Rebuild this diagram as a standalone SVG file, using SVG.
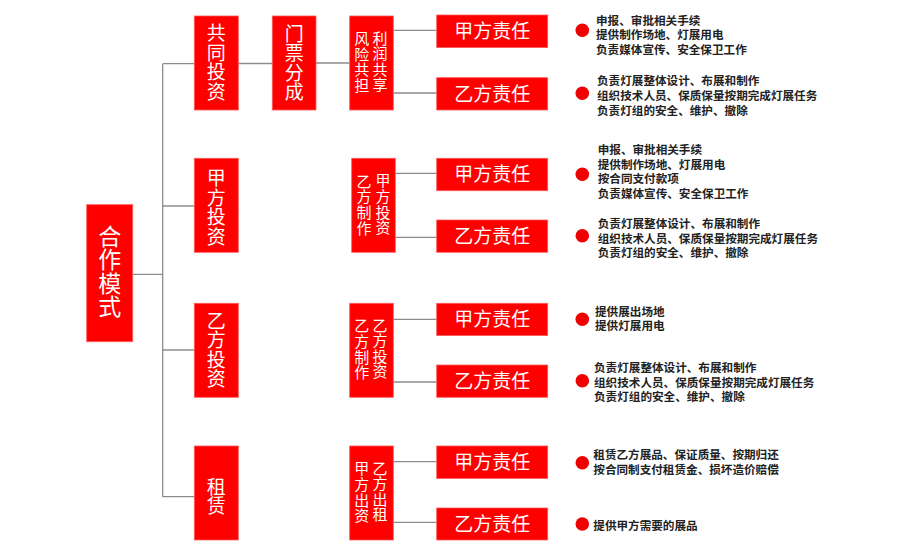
<svg xmlns="http://www.w3.org/2000/svg" width="900" height="550" viewBox="0 0 900 550">
<style>
.box{fill:#ff0000;stroke:#ff5a5a;stroke-width:0.8}
.w{fill:#ffffff;font-family:"Noto Sans CJK SC","Noto Sans",sans-serif;text-anchor:middle}
.v{writing-mode:vertical-rl;text-orientation:upright}
.big{font-size:23px;letter-spacing:0.5px}
.col{font-size:19px;letter-spacing:0.5px}
.mid{font-size:15px;letter-spacing:0.6px}
.resp{font-size:19px}
.d{fill:#222222;font-family:"Noto Sans CJK SC","Noto Sans",sans-serif;font-size:11.6px;font-weight:bold}
.dot{fill:#f00000}
.ln{stroke:#8c8c8c;stroke-width:1.3;fill:none}
</style>
<rect width="900" height="550" fill="#ffffff"/>
<g id="connectors">
<path class="ln" d="M132.7 274.3H162.7M162.7 63.7V496.7M162.7 63.7H194.3M162.7 206H194.3M162.7 350H194.3M162.7 496.7H194.3"/>
<path class="ln" d="M238.3 63.5H272.3M316 63H349.7"/>
<path class="ln" d="M393.3 30.3H436.7M393.3 93H436.7M395.3 173.3H436.7M395.3 237.3H436.7M393.3 319.3H436.7M393.3 382H436.7M393.3 461.7H436.7M393.3 522.3H436.7"/>
</g>
<g id="root">
<rect class="box" x="86.7" y="204.7" width="46" height="137"/>
<text class="w v big" x="109.7" y="271.4">合作模式</text>
</g>
<g id="n-gongtong">
<rect class="box" x="194.3" y="16" width="44" height="94"/>
<text class="w v col" x="216.3" y="62.5">共同投资</text>
</g>
<g id="n-menpiao">
<rect class="box" x="272.3" y="16" width="43.7" height="94"/>
<text class="w v col" x="294.2" y="62.8">门票分成</text>
</g>
<g id="n-lirun">
<rect class="box" x="349.7" y="16" width="43.6" height="94"/>
<text class="w v mid" x="380" y="61.7">利润共享</text>
<text class="w v mid" x="361.7" y="62.2">风险共担</text>
</g>
<g id="n-jiafang">
<rect class="box" x="194.3" y="158.3" width="44" height="94"/>
<text class="w v col" x="216.3" y="207.5">甲方投资</text>
</g>
<g id="n-jiafang-mid">
<rect class="box" x="351.7" y="158.3" width="43.6" height="94"/>
<text class="w v mid" x="383" y="204.5">甲方投资</text>
<text class="w v mid" x="364" y="204.8">乙方制作</text>
</g>
<g id="n-yifang">
<rect class="box" x="194.3" y="303.3" width="44" height="94"/>
<text class="w v col" x="216.3" y="350">乙方投资</text>
</g>
<g id="n-yifang-mid">
<rect class="box" x="349.7" y="303.3" width="43.6" height="94"/>
<text class="w v mid" x="380" y="348.7">乙方投资</text>
<text class="w v mid" x="361.7" y="349.5">乙方制作</text>
</g>
<g id="n-zulin">
<rect class="box" x="194.3" y="446" width="44" height="94"/>
<text class="w v col" x="216.3" y="496.7">租赁</text>
</g>
<g id="n-zulin-mid">
<rect class="box" x="349.7" y="446" width="43.6" height="94"/>
<text class="w v mid" x="380" y="491.7">乙方出租</text>
<text class="w v mid" x="361.7" y="492.5">甲方出资</text>
</g>
<g id="r1-jia">
<rect class="box" x="436.7" y="15" width="111" height="32.5"/>
<text class="w resp" x="492.2" y="38">甲方责任</text>
<circle class="dot" cx="582.3" cy="30.2" r="6.8"/>
<text class="d"><tspan x="596" y="24.7">申报、审批相关手续</tspan><tspan x="596" y="39.2">提供制作场地、灯展用电</tspan><tspan x="596" y="53.7">负责媒体宣传、安全保卫工作</tspan></text>
</g>
<g id="r1-yi">
<rect class="box" x="436.7" y="77.7" width="111" height="32.3"/>
<text class="w resp" x="492.2" y="100.7">乙方责任</text>
<circle class="dot" cx="582.3" cy="93.3" r="6.8"/>
<text class="d"><tspan x="597" y="85.4">负责灯展整体设计、布展和制作</tspan><tspan x="597" y="100.2">组织技术人员、保质保量按期完成灯展任务</tspan><tspan x="597" y="115">负责灯组的安全、维护、撤除</tspan></text>
</g>
<g id="r2-jia">
<rect class="box" x="436.7" y="158.3" width="111" height="32.4"/>
<text class="w resp" x="492.2" y="181.3">甲方责任</text>
<circle class="dot" cx="582.3" cy="174.3" r="6.8"/>
<text class="d"><tspan x="597.7" y="154.1">申报、审批相关手续</tspan><tspan x="597.7" y="168.6">提供制作场地、灯展用电</tspan><tspan x="597.7" y="183.1">按合同支付款项</tspan><tspan x="597.7" y="197.6">负责媒体宣传、安全保卫工作</tspan></text>
</g>
<g id="r2-yi">
<rect class="box" x="436.7" y="220" width="111" height="32.3"/>
<text class="w resp" x="492.2" y="243">乙方责任</text>
<circle class="dot" cx="582.3" cy="235.7" r="6.8"/>
<text class="d"><tspan x="597.7" y="228.4">负责灯展整体设计、布展和制作</tspan><tspan x="597.7" y="242.9">组织技术人员、保质保量按期完成灯展任务</tspan><tspan x="597.7" y="257.4">负责灯组的安全、维护、撤除</tspan></text>
</g>
<g id="r3-jia">
<rect class="box" x="436.7" y="303.3" width="111" height="32.2"/>
<text class="w resp" x="492.2" y="326.3">甲方责任</text>
<circle class="dot" cx="582.3" cy="319.3" r="6.8"/>
<text class="d"><tspan x="595" y="315.6">提供展出场地</tspan><tspan x="595" y="330.1">提供灯展用电</tspan></text>
</g>
<g id="r3-yi">
<rect class="box" x="436.7" y="365" width="111" height="32.3"/>
<text class="w resp" x="492.2" y="388">乙方责任</text>
<circle class="dot" cx="582.3" cy="380.7" r="6.8"/>
<text class="d"><tspan x="594" y="371.9">负责灯展整体设计、布展和制作</tspan><tspan x="594" y="386.5">组织技术人员、保质保量按期完成灯展任务</tspan><tspan x="594" y="401">负责灯组的安全、维护、撤除</tspan></text>
</g>
<g id="r4-jia">
<rect class="box" x="436.7" y="446" width="111" height="32.5"/>
<text class="w resp" x="492.2" y="469">甲方责任</text>
<circle class="dot" cx="582.3" cy="462.7" r="6.8"/>
<text class="d"><tspan x="593.3" y="459.4">租赁乙方展品、保证质量、按期归还</tspan><tspan x="593.3" y="474.2">按合同制支付租赁金、损坏造价赔偿</tspan></text>
</g>
<g id="r4-yi">
<rect class="box" x="436.7" y="508" width="111" height="32"/>
<text class="w resp" x="492.2" y="530.8">乙方责任</text>
<circle class="dot" cx="582.3" cy="524" r="6.8"/>
<text class="d"><tspan x="593.3" y="529.9">提供甲方需要的展品</tspan></text>
</g>
</svg>
